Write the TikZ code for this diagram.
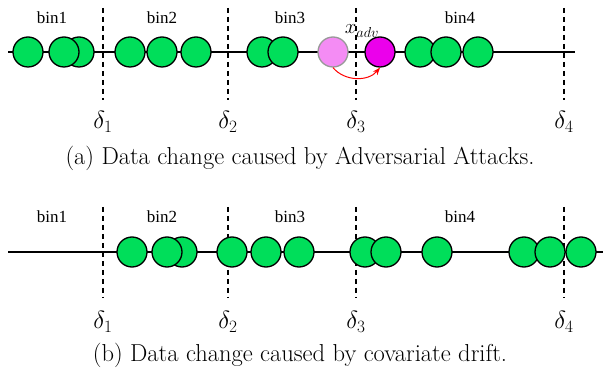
\documentclass[tikz,border=0pt]{standalone}
\usepackage{amsmath}
\usepackage{fontspec}
\newfontfamily\binfont{Liberation Serif}
\usepackage{xcolor}
\usetikzlibrary{arrows.meta,positioning}

\definecolor{ballgreen}{RGB}{0,222,90}
\definecolor{advpink}{RGB}{244,140,244}
\definecolor{advmagenta}{RGB}{235,0,235}

\begin{document}
\begin{tikzpicture}[>=Stealth, x=1pt, y=1pt,
  ball/.style={circle, draw, line width=1.3pt, fill=ballgreen, minimum size=30pt, inner sep=0pt},
  cut/.style={line width=1.8pt, dash pattern=on 5pt off 4pt},
  binlab/.style={font=\fontsize{17}{17}\binfont},
  deltalab/.style={font=\fontsize{24}{24}\selectfont},
  caption/.style={font=\fontsize{24.5}{24.5}\selectfont}]
\useasboundingbox (0,0) rectangle (603,-374);

% (a) adversarial attacks
\coordinate (la) at (8,-52);
\coordinate (ra) at (575,-52);
\draw[line width=1.3pt] (la) -- (ra);
\foreach \x [count=\i] in {103,228,356,564} {
  \coordinate (ta\i) at (\x,-8);
  \coordinate (ba\i) at (\x,-100);
  \draw[cut] (ta\i) -- (ba\i);
  \node[deltalab] (da\i) at (\x,-122) {$\delta_{\i}$};
}
\foreach \x [count=\i] in {28,79,64,130,162,196,262,283,420,446,478}
  \node[ball] (pa\i) at (\x,-52) {};
\node[ball, fill=advpink, draw=black!40] (ghost) at (333,-52) {};
\node[ball, fill=advmagenta] (adv) at (380,-52) {};
\draw[->, red, line width=1pt, bend right=50] (ghost.south) to (adv.south);
\node[font=\fontsize{21}{21}\selectfont] (xadv) at (362,-31) {$x_{adv}$};
\node[binlab] (bina1) at (52,-18) {bin1};
\node[binlab] (bina2) at (162,-18) {bin2};
\node[binlab] (bina3) at (290,-18) {bin3};
\node[binlab] (bina4) at (460,-18) {bin4};
\node[caption] (capa) at (300,-158) {(a) Data change caused by Adversarial Attacks.};

% (b) covariate drift
\coordinate (lb) at (8,-252);
\coordinate (rb) at (603,-252);
\draw[line width=1.3pt] (lb) -- (rb);
\foreach \x [count=\i] in {103,228,356,564} {
  \coordinate (tb\i) at (\x,-207);
  \coordinate (bb\i) at (\x,-298);
  \draw[cut] (tb\i) -- (bb\i);
  \node[deltalab] (db\i) at (\x,-322) {$\delta_{\i}$};
}
\foreach \x [count=\i] in {132,182,167,232,266,299,365,386,437,524,550,581}
  \node[ball] (pb\i) at (\x,-252) {};
\node[binlab] (binb1) at (52,-217) {bin1};
\node[binlab] (binb2) at (162,-217) {bin2};
\node[binlab] (binb3) at (290,-217) {bin3};
\node[binlab] (binb4) at (460,-217) {bin4};
\node[caption] (capb) at (300,-355) {(b) Data change caused by covariate drift.};
\end{tikzpicture}
\end{document}
